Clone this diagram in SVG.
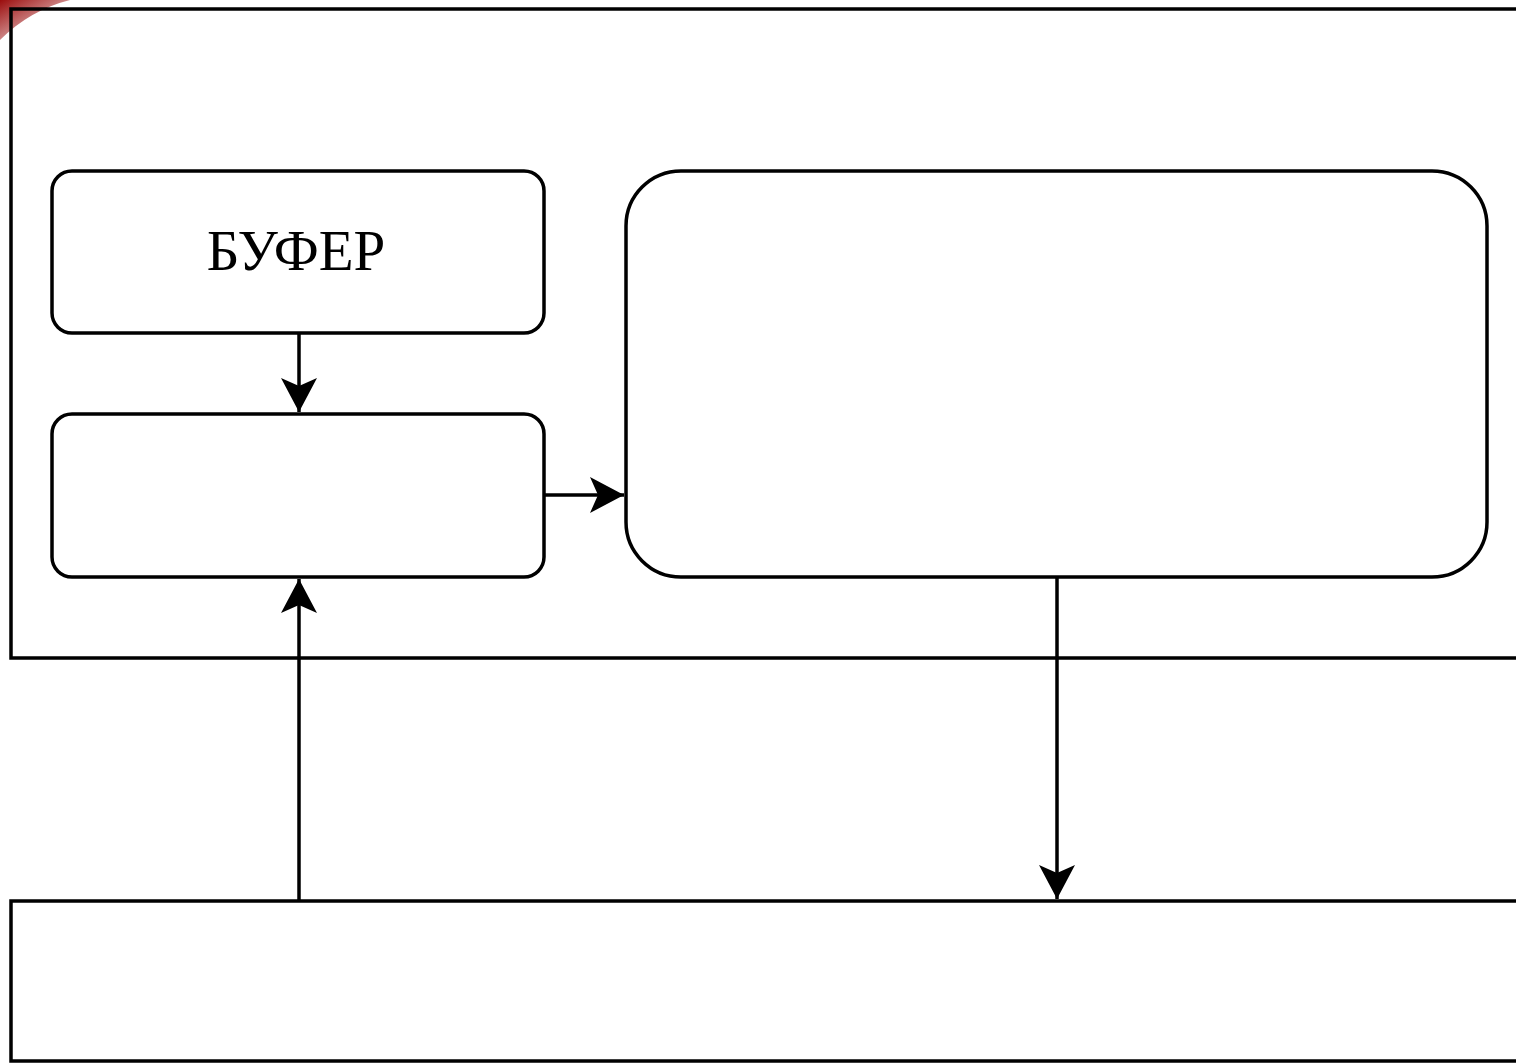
<svg xmlns="http://www.w3.org/2000/svg" width="1516" height="1063" viewBox="0 0 1516 1063">
<style>
.box{fill:#fff;stroke:#000;stroke-width:3.5}
.frame{fill:none;stroke:#000;stroke-width:3.5}
.edge{fill:none;stroke:#000;stroke-width:3.5}
.lbl{font-family:"Liberation Serif","Times New Roman",serif;font-size:57px;fill:#000;text-anchor:middle}
</style>
<defs>
<marker id="ah" markerUnits="userSpaceOnUse" markerWidth="40" markerHeight="40" viewBox="-36 -20 40 40" refX="0" refY="0" orient="auto">
<path d="M0,0 L-34,-18 L-26,0 L-34,18 Z" fill="#000"/>
</marker>
<linearGradient id="red" x1="0" y1="0" x2="1" y2="1">
<stop offset="0" stop-color="#9b0d0d"/>
<stop offset="1" stop-color="#9b0d0d" stop-opacity="0"/>
</linearGradient>
</defs>
<rect width="1516" height="1063" fill="#fff"/>
<path d="M0,0 L70,0 Q30,10 0,40 Z" fill="url(#red)"/>
<g id="frames">
<path class="frame" d="M1516,9 L11,9 L11,658 L1516,658"/>
<path class="frame" d="M1516,901 L11,901 L11,1061 L1516,1061"/>
</g>
<g id="buffer">
<rect class="box" x="52" y="171" width="492" height="162" rx="20"/>
<text class="lbl" x="296" y="270">БУФЕР</text>
</g>
<g id="node2">
<rect class="box" x="52" y="414" width="492" height="163" rx="20"/>
</g>
<g id="node3">
<rect class="box" x="626" y="171" width="861" height="406" rx="55"/>
</g>
<g id="connectors">
<line class="edge" x1="299" y1="333" x2="299" y2="412" marker-end="url(#ah)"/>
<line class="edge" x1="544" y1="495" x2="624" y2="495" marker-end="url(#ah)"/>
<line class="edge" x1="299" y1="901" x2="299" y2="579" marker-end="url(#ah)"/>
<line class="edge" x1="1057" y1="577" x2="1057" y2="899" marker-end="url(#ah)"/>
</g>
</svg>
